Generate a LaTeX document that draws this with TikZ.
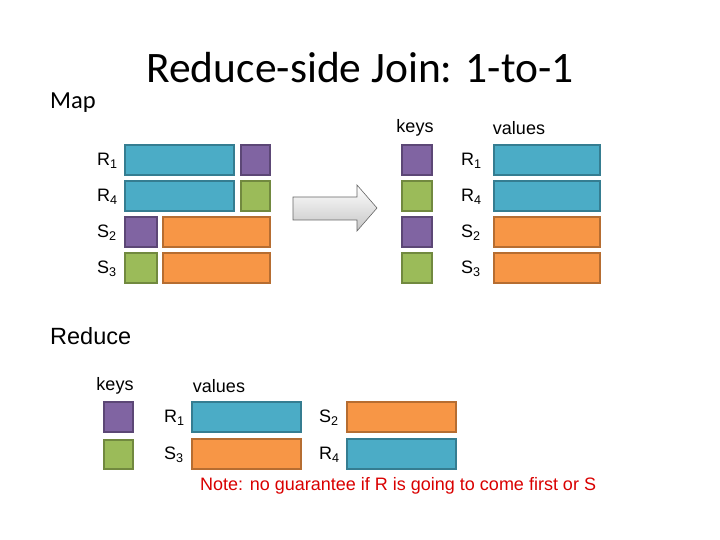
\documentclass[tikz,border=0pt]{standalone}
\usepackage{fontspec}
\setmainfont{Liberation Sans}
\newfontfamily\calib{Carlito}
\definecolor{bl}{HTML}{4BACC6}\definecolor{blb}{HTML}{357D91}
\definecolor{pu}{HTML}{8064A2}\definecolor{pub}{HTML}{5C4776}
\definecolor{gr}{HTML}{9BBB59}\definecolor{grb}{HTML}{71893F}
\definecolor{or}{HTML}{F79646}\definecolor{orb}{HTML}{B66D31}
\tikzset{bx/.style={line width=2.5pt},
 B/.style={bx,fill=bl,draw=blb},P/.style={bx,fill=pu,draw=pub},
 G/.style={bx,fill=gr,draw=grb},O/.style={bx,fill=or,draw=orb},
 lab/.style={font=\fontsize{18}{20}\selectfont,inner sep=0pt},
 rl/.style={lab,anchor=west}}
\begin{document}
\begin{tikzpicture}[x=1pt,y=-1pt]
\useasboundingbox (0,0) rectangle (720,540);
\node[font=\calib\fontsize{43.5}{46}\selectfont] (t) at (360,68) {Reduce-side Join: 1-to-1};
\node[font=\calib\fontsize{24.5}{27}\selectfont,anchor=west,inner sep=0pt] (map) at (50,103) {Map};
\node[lab] (k1) at (415,128) {keys};
\node[lab] (v1) at (519,128) {values};
% left
\draw[B] (125,145) rectangle (234,175); \draw[P] (241,145) rectangle (270,175);
\draw[B] (125,181) rectangle (234,211); \draw[G] (241,181) rectangle (270,211);
\draw[P] (125,217) rectangle (157,247); \draw[O] (163,217) rectangle (270,247);
\draw[G] (125,253) rectangle (157,283); \draw[O] (163,253) rectangle (270,283);
\node[rl] (l1) at (97,161) {R\textsubscript{1}};
\node[rl] (l2) at (97,197) {R\textsubscript{4}};
\node[rl] (l3) at (97,233) {S\textsubscript{2}};
\node[rl] (l4) at (97,269) {S\textsubscript{3}};
% arrow
\draw[gray!80!black,top color=white,bottom color=gray!45,line width=0.6pt]
 (293,197) -- (357,197) -- (357,185) -- (377,208) -- (357,231) -- (357,220) -- (293,220) -- cycle;
% right
\draw[P] (402,145) rectangle (432,175); \draw[B] (494,145) rectangle (600,175);
\draw[G] (402,181) rectangle (432,211); \draw[B] (494,181) rectangle (600,211);
\draw[P] (402,217) rectangle (432,247); \draw[O] (494,217) rectangle (600,247);
\draw[G] (402,253) rectangle (432,283); \draw[O] (494,253) rectangle (600,283);
\node[rl] (r1) at (461,161) {R\textsubscript{1}};
\node[rl] (r2) at (461,197) {R\textsubscript{4}};
\node[rl] (r3) at (461,233) {S\textsubscript{2}};
\node[rl] (r4) at (461,269) {S\textsubscript{3}};
% reduce
\node[font=\fontsize{23.5}{26}\selectfont,anchor=west,inner sep=0pt] (red) at (50,336) {Reduce};
\node[lab] (k2) at (115,386) {keys};
\node[lab] (v2) at (219,386) {values};
\draw[P] (104,402) rectangle (133,432);
\draw[G] (104,440) rectangle (133,469);
\draw[B] (192,402) rectangle (301,432); \draw[O] (347,402) rectangle (456,432);
\draw[O] (192,439) rectangle (301,469); \draw[B] (347,439) rectangle (456,469);
\node[rl] (q1) at (164,418) {R\textsubscript{1}};
\node[rl] (q2) at (319,418) {S\textsubscript{2}};
\node[rl] (q3) at (164,455) {S\textsubscript{3}};
\node[rl] (q4) at (319,455) {R\textsubscript{4}};
\node[font=\fontsize{18}{20}\selectfont,text=red!85!black,anchor=west,inner sep=0pt] (note) at (200,486) {Note: no guarantee if R is going to come first or S};
\end{tikzpicture}
\end{document}
